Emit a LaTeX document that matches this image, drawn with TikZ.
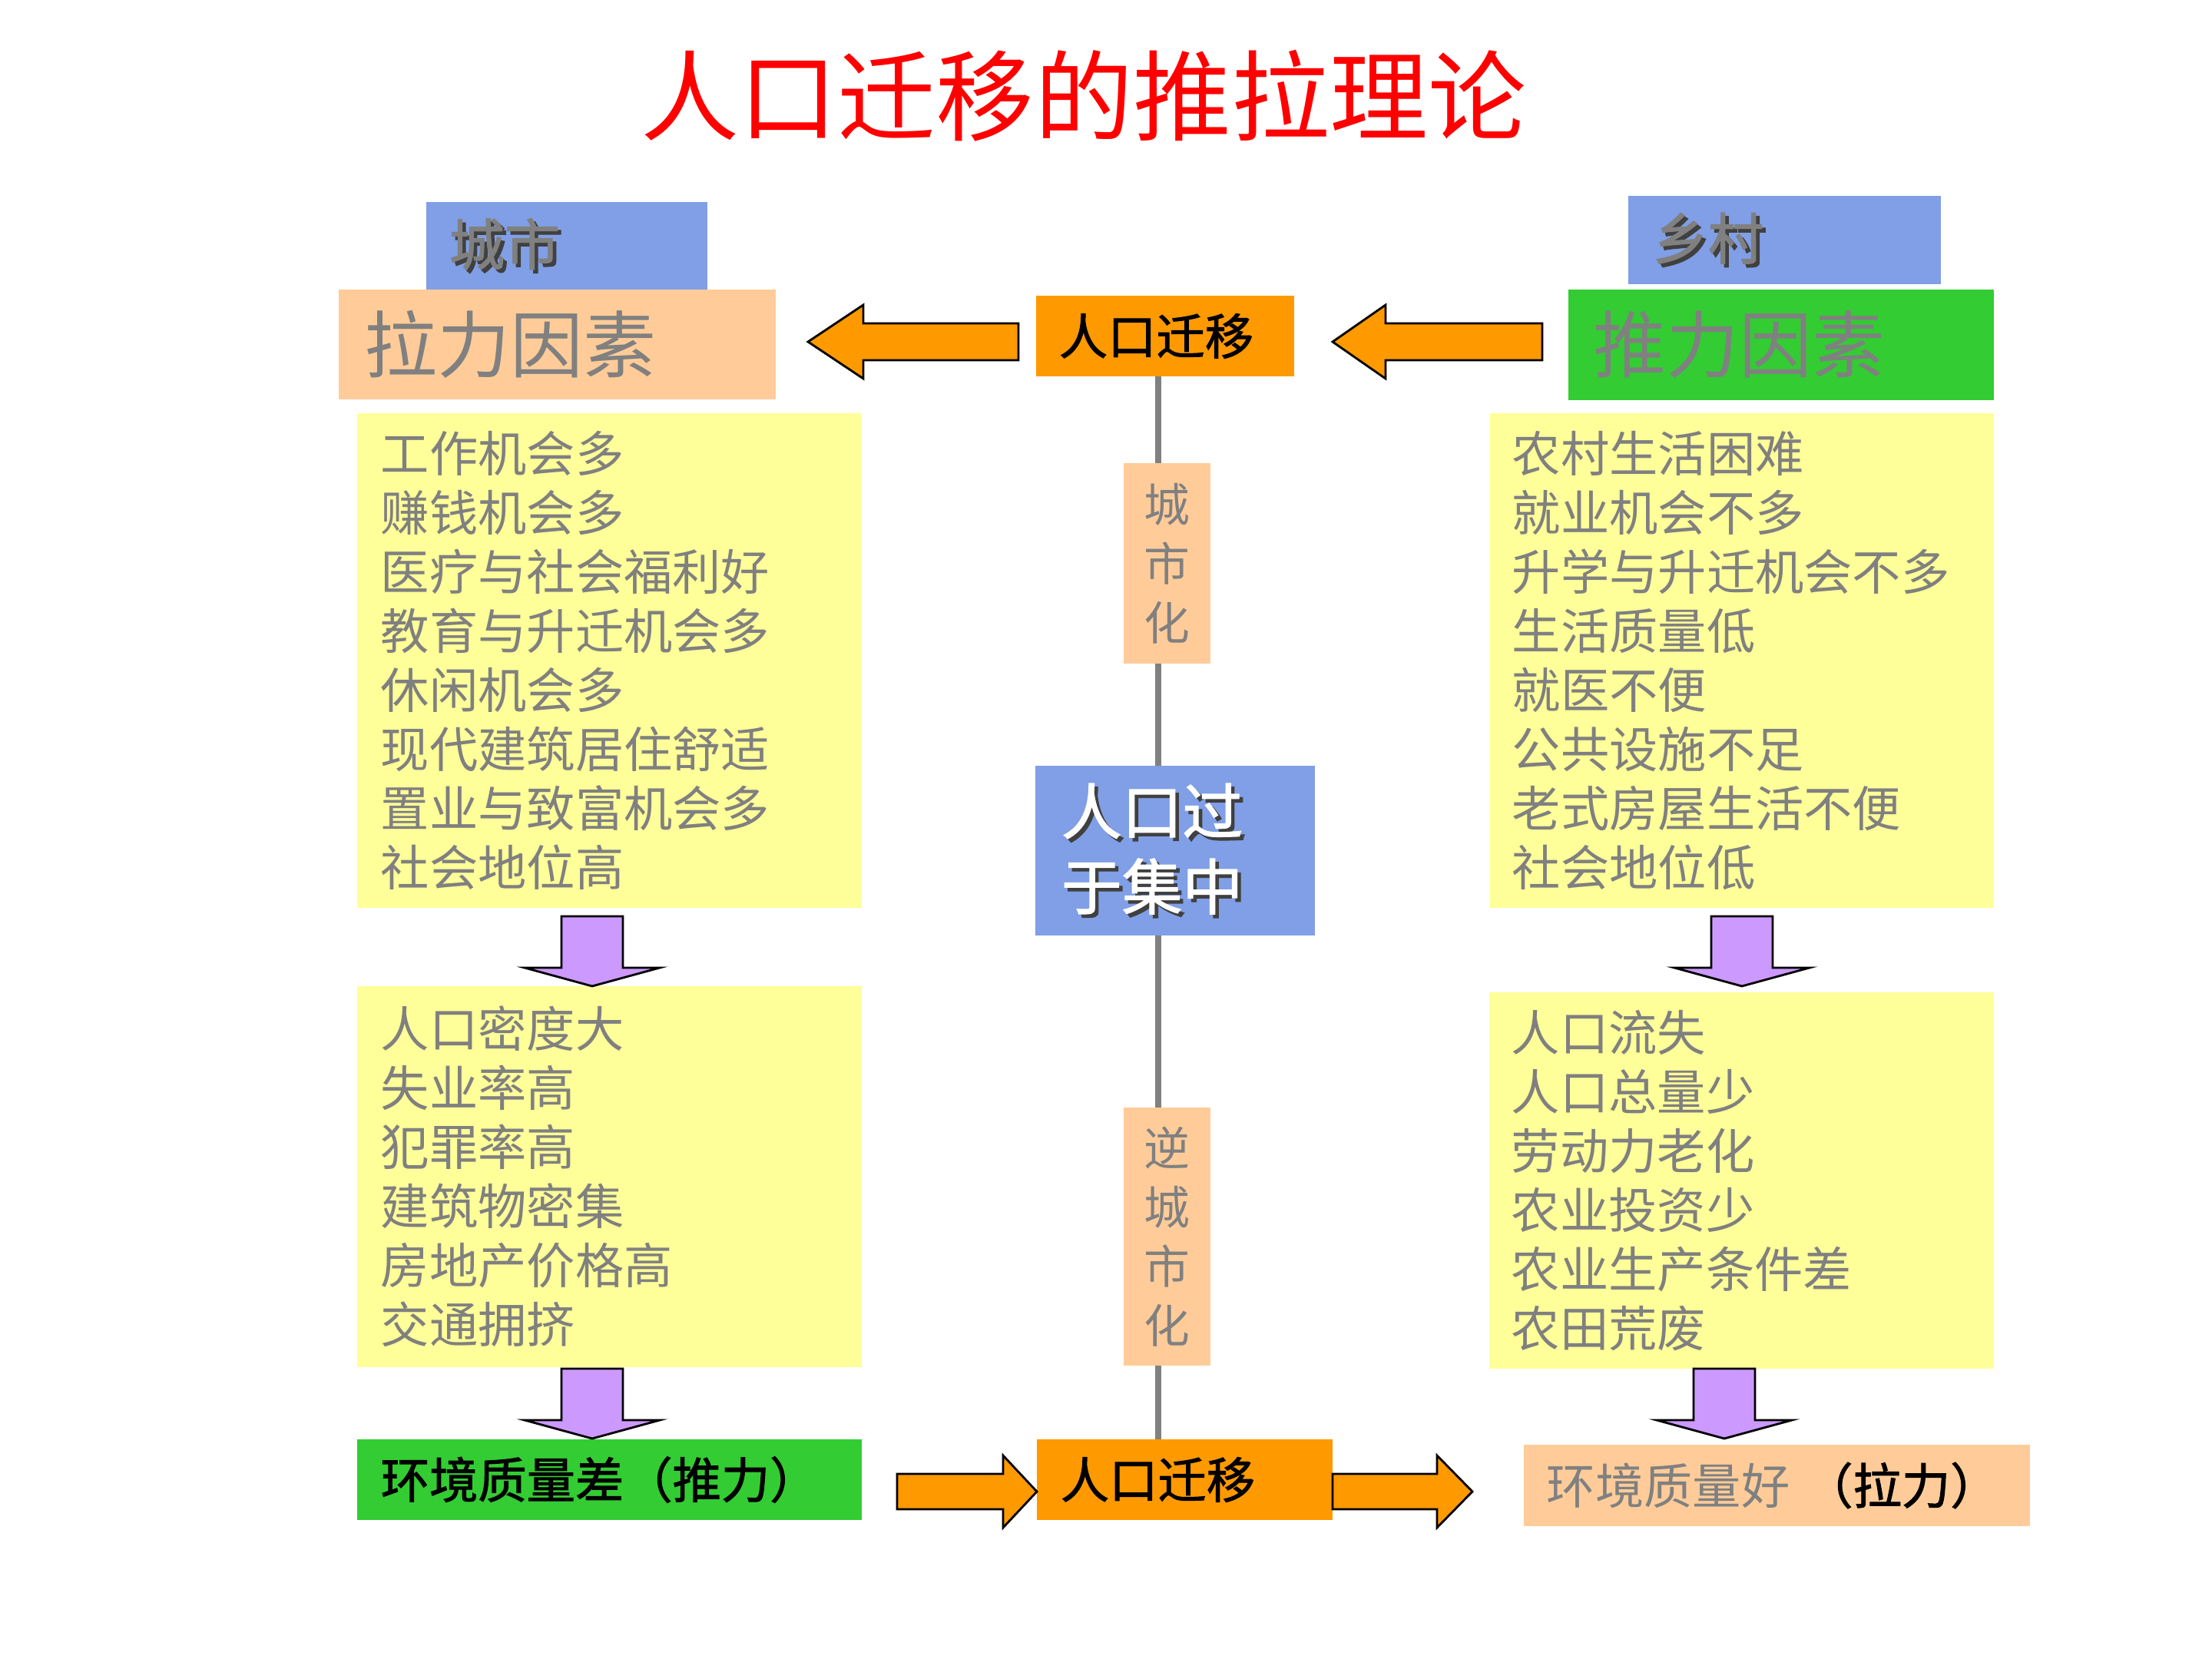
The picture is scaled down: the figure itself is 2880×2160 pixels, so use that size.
\documentclass[tikz,border=0pt]{standalone}
\usepackage{fontspec}
\setmainfont{Noto Sans CJK SC}[BoldFont=Noto Sans CJK SC, BoldFeatures={FakeBold=1.6}]
\usepackage{xcolor}
\usepackage{tikz}
\definecolor{titlered}{RGB}{255,0,0}
\definecolor{txtgray}{RGB}{128,128,128}
\definecolor{boxblue}{RGB}{128,159,230}
\definecolor{boxpeach}{RGB}{255,204,153}
\definecolor{boxyellow}{RGB}{255,255,153}
\definecolor{boxgreen}{RGB}{51,204,51}
\definecolor{boxorange}{RGB}{255,153,0}
\definecolor{arrowpurple}{RGB}{204,153,255}
% text with a dark drop shadow
\newcommand{\shadowed}[2]{\makebox[0pt][l]{\hspace{1.3pt}\raisebox{-1.3pt}{\color{black!75}#2}}{\color{#1}#2}}
\tikzset{
    panel/.style={rectangle, inner ysep=0pt, outer sep=0pt, align=left},
    place/.style={panel, fill=boxblue, text=txtgray, font=\bfseries\fontsize{20.5}{24}\selectfont},
    factor/.style={panel, text=txtgray, font=\fontsize{27}{32}\selectfont},
    listbox/.style={panel, fill=boxyellow, text=txtgray, font=\fontsize{18}{21.9}\selectfont},
    migrate/.style={panel, fill=boxorange, text=black, font=\bfseries\fontsize{18}{22}\selectfont},
    stage/.style={panel, fill=boxpeach, text=txtgray, align=center, minimum width=1.13cm, font=\fontsize{17}{21.9}\selectfont},
    result/.style={panel, font=\bfseries\fontsize{18}{22}\selectfont, minimum height=1.05cm},
    % block arrows
    flowarrow/.style={draw=black, line width=0.8pt, fill=boxorange, line join=miter},
    downarrow/.style={draw=black, line width=0.8pt, fill=arrowpurple, line join=miter},
    spine/.style={draw=txtgray, line width=2pt}
}
\begin{document}
\begin{tikzpicture}[x=0.01cm, y=-0.01cm]
\useasboundingbox (0,0) rectangle (2880,2160);

% Title
\node[text=titlered, font=\fontsize{36.4}{40}\selectfont] (title) at (1411,125) {人口迁移的推拉理论};

% City side
\node[place, minimum width=3.66cm, minimum height=1.14cm, inner xsep=0.30cm, text width=3.06cm] (city) at (738,320) {\shadowed{txtgray}{城市}};
\node[factor, fill=boxpeach, minimum width=5.69cm, minimum height=1.43cm, inner xsep=0.34cm, text width=5.01cm] (pull) at (725.5,448.5) {拉力因素};

% Countryside
\node[place, minimum width=4.07cm, minimum height=1.15cm, inner xsep=0.32cm, text width=3.43cm] (rural) at (2323.5,312.5) {\shadowed{txtgray}{乡村}};
\node[factor, fill=boxgreen, minimum width=5.54cm, minimum height=1.44cm, inner xsep=0.33cm, text width=4.88cm] (push) at (2319,449) {推力因素};

% Migration boxes
\node[migrate, minimum width=3.36cm, minimum height=1.05cm, inner xsep=0.30cm, text width=2.76cm] (migtop) at (1517,437.5) {人口迁移};
\node[migrate, minimum width=3.85cm, minimum height=1.05cm, inner xsep=0.31cm, text width=3.23cm] (migbot) at (1542.5,1926.5) {人口迁移};

% Factor lists
\node[listbox, minimum width=6.57cm, minimum height=6.44cm, inner xsep=0.31cm, text width=5.95cm] (pullA) at (793.5,860) {工作机会多\\赚钱机会多\\医疗与社会福利好\\教育与升迁机会多\\休闲机会多\\现代建筑居住舒适\\置业与致富机会多\\社会地位高};
\node[listbox, minimum width=6.57cm, minimum height=4.96cm, inner xsep=0.31cm, text width=5.95cm] (pullB) at (793.5,1532) {人口密度大\\失业率高\\犯罪率高\\建筑物密集\\房地产价格高\\交通拥挤};
\node[listbox, minimum width=6.56cm, minimum height=6.44cm, inner xsep=0.29cm, text width=5.98cm] (pushA) at (2268,860) {农村生活困难\\就业机会不多\\升学与升迁机会不多\\生活质量低\\就医不便\\公共设施不足\\老式房屋生活不便\\社会地位低};
\node[listbox, minimum width=6.57cm, minimum height=4.90cm, inner xsep=0.29cm, text width=5.99cm] (pushB) at (2267.5,1537) {人口流失\\人口总量少\\劳动力老化\\农业投资少\\农业生产条件差\\农田荒废};

% Centre axis
\coordinate (axis) at (1508,0);
\draw[spine] (migtop.south -| axis) -- (migbot.north -| axis);
\node[stage, minimum height=2.61cm] (urban) at (1519.5,733.5) {城\\市\\化};
\node[panel, fill=boxblue, minimum width=3.64cm, minimum height=2.21cm, inner xsep=0.34cm, text width=2.96cm, font=\bfseries\fontsize{22.4}{27.9}\selectfont] (dense) at (1530,1107.5) {\shadowed{white}{人口过}\\\shadowed{white}{于集中}};
\node[stage, minimum height=3.36cm] (counter) at (1519.5,1610) {逆\\城\\市\\化};

% Environment results
\node[result, fill=boxgreen, text=black, minimum width=6.57cm, inner xsep=0.31cm, text width=5.95cm] (pushenv) at (793.5,1926.5) {环境质量差（推力）};
\node[result, fill=boxpeach, minimum width=6.59cm, minimum height=1.06cm, inner xsep=0.30cm, text width=5.99cm, font=\fontsize{18}{22}\selectfont] (pullenv) at (2313.5,1934) {\textcolor{txtgray}{环境质量好}\hspace{0.3em}\textcolor{black}{\bfseries （拉力）}};

% Orange arrows
\draw[flowarrow] (1052,445) -- (1124,397) -- (1124,421) -- (1326,421) -- (1326,469) -- (1124,469) -- (1124,493) -- cycle;
\draw[flowarrow] (1735,445) -- (1804,397) -- (1804,421) -- (2008,421) -- (2008,469) -- (1804,469) -- (1804,493) -- cycle;
\draw[flowarrow] (1350,1942) -- (1306,1895) -- (1306,1919) -- (1168,1919) -- (1168,1965) -- (1306,1965) -- (1306,1989) -- cycle;
\draw[flowarrow] (1917,1942) -- (1871,1895) -- (1871,1919) -- (1735,1919) -- (1735,1965) -- (1871,1965) -- (1871,1989) -- cycle;

% Purple arrows
\foreach \cx/\ty in {771/1193, 771/1782, 2268/1193, 2245/1782} {
    \draw[downarrow] (\cx,\ty+91) -- (\cx-88,\ty+67) -- (\cx-40,\ty+67) -- (\cx-40,\ty) -- (\cx+40,\ty) -- (\cx+40,\ty+67) -- (\cx+88,\ty+67) -- cycle;
}
\end{tikzpicture}
\end{document}
